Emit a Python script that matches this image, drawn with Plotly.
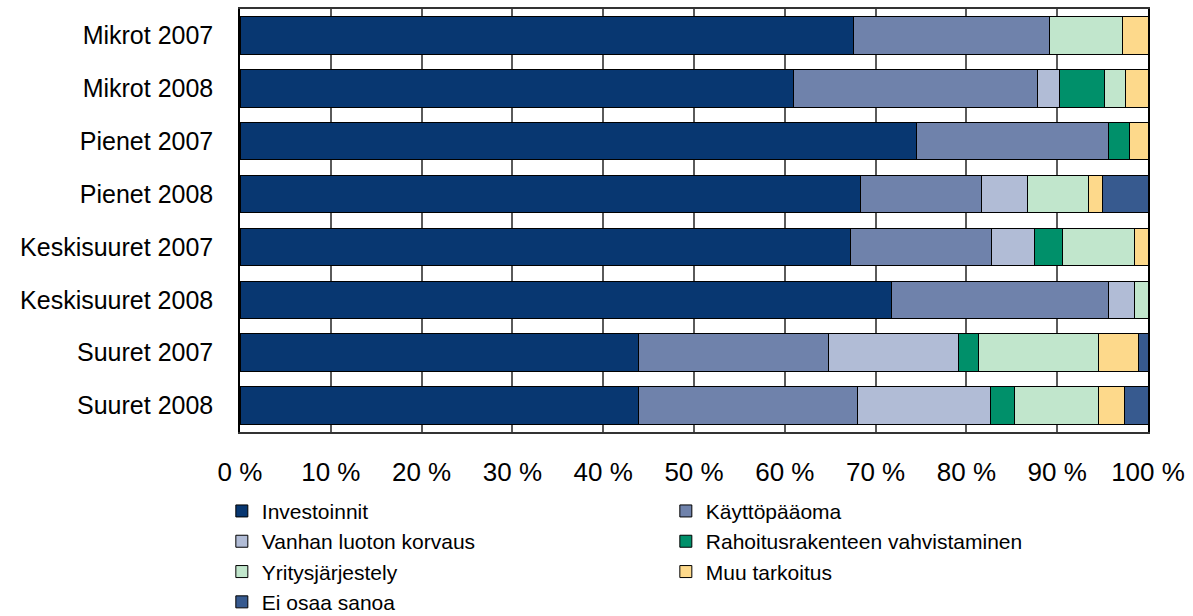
import plotly.graph_objects as go

categories = ["Mikrot 2007", "Mikrot 2008", "Pienet 2007", "Pienet 2008",
              "Keskisuuret 2007", "Keskisuuret 2008", "Suuret 2007", "Suuret 2008"]

investoinnit = [67.6, 61.0, 74.5, 68.3, 67.2, 71.7, 43.9, 43.9]
kayttopaaoma = [21.6, 26.8, 21.2, 13.4, 15.6, 23.9, 20.9, 24.1]
vanhan_luoton = [0.0, 2.4, 0.0, 5.0, 4.7, 2.9, 14.3, 14.7]
rahoitusrakenne = [0.0, 5.0, 2.3, 0.0, 3.1, 0.0, 2.2, 2.6]
yritysjarjestely = [8.0, 2.3, 0.0, 6.7, 7.9, 1.5, 13.2, 9.3]
muu_tarkoitus = [2.8, 2.5, 2.0, 1.6, 1.5, 0.0, 4.4, 2.8]
ei_osaa = [0.0, 0.0, 0.0, 5.0, 0.0, 0.0, 1.1, 2.6]

series = [
    ("Investoinnit", investoinnit, "#083771"),
    ("Käyttöpääoma", kayttopaaoma, "#6F82AB"),
    ("Vanhan luoton korvaus", vanhan_luoton, "#B1BCD6"),
    ("Rahoitusrakenteen vahvistaminen", rahoitusrakenne, "#00906A"),
    ("Yritysjärjestely", yritysjarjestely, "#C1E6CC"),
    ("Muu tarkoitus", muu_tarkoitus, "#FDD98B"),
    ("Ei osaa sanoa", ei_osaa, "#375A8F"),
]

tick_vals = list(range(0, 101, 10))
tick_text = [f"{v} %" for v in tick_vals]

fig = go.Figure()
for name, vals, color in series:
    fig.add_trace(go.Bar(
        y=categories, x=vals, name=name, orientation="h",
        marker=dict(color=color, line=dict(color="#000000", width=1)),
    ))

fig.update_layout(
    template="none",
    barmode="stack",
    bargap=0.29,
    width=1193, height=616,
    margin=dict(l=240, r=45, t=9, b=184, autoexpand=False),
    plot_bgcolor="white", paper_bgcolor="white",
    font=dict(family="Liberation Sans, Arial, sans-serif", size=22, color="#000000"),
    showlegend=True,
    legend=dict(
        orientation="h", traceorder="normal",
        x=-0.02, xanchor="left", y=-0.139, yanchor="top",
        entrywidth=399, entrywidthmode="pixels",
        font=dict(size=21), itemwidth=30, tracegroupgap=0,
        bgcolor="rgba(0,0,0,0)",
    ),
    xaxis=dict(
        range=[0, 100], tickmode="array", tickvals=tick_vals, ticktext=tick_text,
        showgrid=True, gridcolor="#5a5a5a", gridwidth=2, griddash="solid",
        showline=True, linecolor="#333333", linewidth=1.5, mirror=True,
        zeroline=False, ticks="", automargin=False, ticklabelstandoff=16,
        tickfont=dict(size=26),
    ),
    yaxis=dict(
        autorange="reversed", showline=True, linecolor="#000000", linewidth=1.5,
        mirror=True, ticks="", ticklabelstandoff=20, tickfont=dict(size=25),
        showgrid=False, automargin=False, zeroline=False,
    ),
)

fig.write_html(
    "out.html",
    config={"displayModeBar": False},
    post_script="document.body.style.margin='0';document.body.style.overflow='hidden';",
)
